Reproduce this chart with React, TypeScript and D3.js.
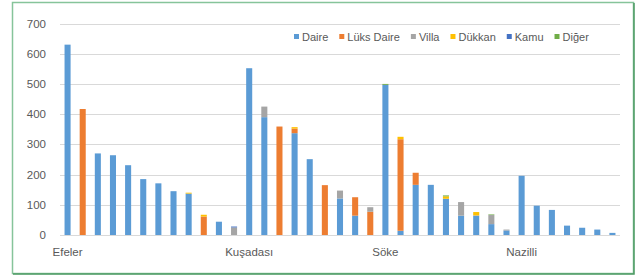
import React, { useRef, useEffect } from "react";
import * as d3 from "d3";

// one entry per bar; only some of them carry a label
const categories = [
  "Efeler", "", "", "", "", "", "", "", "", "", "", "",
  "Kuşadası", "", "", "", "", "", "", "", "",
  "Söke", "", "", "", "", "", "", "", "",
  "Nazilli", "", "", "", "", "", "",
];

const daire = [630, 0, 270, 264, 231, 185, 171, 145, 137, 0, 44, 0, 552, 390, 0, 337, 251, 0, 121, 64, 0, 497, 14, 166, 166, 120, 64, 63, 36, 15, 196, 97, 83, 31, 24, 18, 7];
const luksDaire = [0, 417, 0, 0, 0, 0, 0, 0, 0, 61, 0, 0, 0, 0, 359, 15, 0, 165, 0, 61, 77, 0, 303, 40, 0, 0, 0, 0, 0, 0, 0, 0, 0, 0, 0, 0, 0];
const villa = [0, 0, 0, 0, 0, 0, 0, 0, 0, 0, 0, 25, 0, 35, 0, 0, 0, 0, 26, 0, 15, 0, 0, 0, 0, 0, 45, 2, 30, 3, 0, 0, 0, 0, 0, 0, 0];
const dukkan = [0, 0, 0, 0, 0, 0, 0, 0, 3, 6, 0, 0, 0, 0, 0, 5, 0, 0, 0, 0, 0, 0, 8, 0, 0, 8, 0, 11, 0, 0, 0, 0, 0, 0, 0, 0, 0];
const kamu = [0, 0, 0, 0, 0, 0, 0, 0, 0, 0, 0, 3, 0, 0, 0, 0, 0, 0, 0, 0, 0, 0, 0, 0, 0, 0, 0, 0, 0, 0, 0, 0, 0, 0, 0, 0, 0];
const diger = [0, 0, 0, 0, 0, 0, 0, 0, 0, 0, 0, 0, 0, 0, 0, 0, 0, 0, 0, 0, 0, 3, 0, 0, 0, 3, 0, 0, 2, 0, 0, 0, 0, 0, 0, 0, 0];

const seriesNames = ["Daire", "Lüks Daire", "Villa", "Dükkan", "Kamu", "Diğer"];
const seriesColors = ["#5B9BD5", "#ED7D31", "#A5A5A5", "#FFC000", "#4472C4", "#70AD47"];
const yTicks = [0, 100, 200, 300, 400, 500, 600, 700];

export default function App() {
  const canvas = useRef<SVGSVGElement>(null);

  useEffect(() => {
    const W = 640, H = 277;
    const svg = d3.select(canvas.current);
    svg.selectAll("*").remove();
    const font = "'Liberation Sans', Arial, sans-serif";

    // frame
    svg.append("rect").attr("x", 0).attr("y", 0).attr("width", W).attr("height", H).attr("fill", "#fff");
    svg.append("rect")
      .attr("x", 12.5).attr("y", 2.5).attr("width", 621).attr("height", 271)
      .attr("fill", "none").attr("stroke", "#86c49a").attr("stroke-width", 1.5);
    svg.append("path")
      .attr("d", "M634,3 V274 H13")
      .attr("fill", "none").attr("stroke", "#4f9a66").attr("stroke-width", 1.5);

    const series = [daire, luksDaire, villa, dukkan, kamu, diger];
    const rows = categories.map((c, i) => {
      const r: any = { idx: i };
      seriesNames.forEach((n, k) => (r[n] = series[k][i]));
      return r;
    });
    const stacked = d3.stack().keys(seriesNames)(rows);

    const x = d3.scaleBand<number>()
      .domain(categories.map((_, i) => i))
      .range([60, 620])
      .paddingInner(0.6)
      .paddingOuter(0.3);
    const y = d3.scaleLinear().domain([0, 700]).range([235, 23.5]);

    // gridlines
    svg.append("g").selectAll("line")
      .data(yTicks)
      .enter()
      .append("line")
      .attr("x1", 60).attr("x2", 620)
      .attr("y1", (d) => Math.round(y(d)) + 0.5)
      .attr("y2", (d) => Math.round(y(d)) + 0.5)
      .attr("stroke", "#D9D9D9").attr("stroke-width", 1);

    svg.append("g").selectAll("text")
      .data(yTicks)
      .enter()
      .append("text")
      .text((d) => d)
      .attr("x", 46)
      .attr("y", (d) => y(d) + 4)
      .attr("text-anchor", "end")
      .attr("fill", "#595959")
      .style("font-family", font)
      .style("font-size", "11.5px");

    // bars
    svg.append("g").selectAll("g")
      .data(stacked)
      .enter()
      .append("g")
      .attr("fill", (_, k) => seriesColors[k])
      .selectAll("rect")
      .data((s) => s.filter((d) => d[1] - d[0] > 0))
      .enter()
      .append("rect")
      .attr("x", (d: any) => x(d.data.idx)!)
      .attr("width", x.bandwidth())
      .attr("y", (d) => y(d[1]))
      .attr("height", (d) => y(d[0]) - y(d[1]));

    // category labels
    svg.append("g").selectAll("text")
      .data(categories.map((c, i) => ({ c, i })).filter((d) => d.c))
      .enter()
      .append("text")
      .text((d) => d.c)
      .attr("x", (d) => x(d.i)! + x.bandwidth() / 2)
      .attr("y", 256)
      .attr("text-anchor", "middle")
      .attr("fill", "#595959")
      .style("font-family", font)
      .style("font-size", "11.5px");

    // legend
    const legend = svg.append("g").attr("transform", "translate(294, 37)");
    let lx = 0;
    seriesNames.forEach((n, k) => {
      legend.append("rect")
        .attr("x", lx).attr("y", -3).attr("width", 5).attr("height", 5)
        .attr("fill", seriesColors[k]);
      const t = legend.append("text")
        .text(n)
        .attr("x", lx + 8)
        .attr("y", 3.5)
        .attr("fill", "#595959")
        .style("font-family", font)
        .style("font-size", "11px");
      const w = (t.node() as SVGTextElement).getComputedTextLength();
      lx += 8 + w + 11;
    });
  }, []);

  return (
    <svg
      ref={canvas}
      width={640}
      height={277}
      style={{ position: "absolute", left: 0, top: 0 }}
    ></svg>
  );
}
